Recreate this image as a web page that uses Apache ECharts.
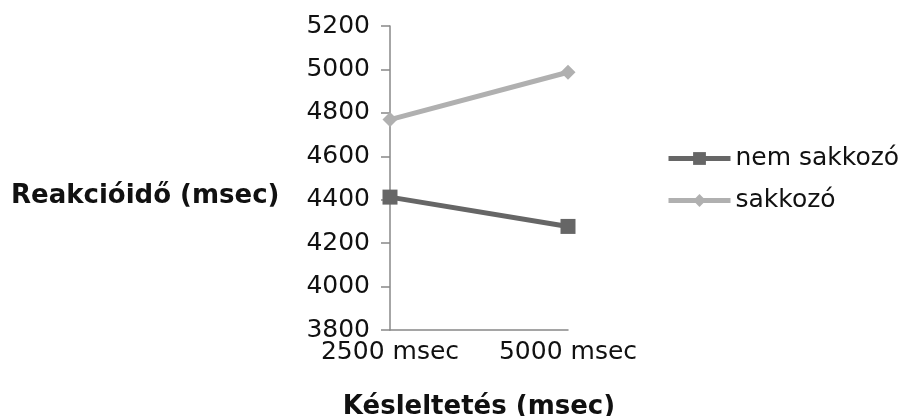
<!DOCTYPE html>
<html>
<head>
<meta charset="utf-8">
<script src="https://cdn.jsdelivr.net/npm/echarts@6/dist/echarts.min.js"></script>
<style>html,body{margin:0;padding:0;background:#fff}#c{width:908px;height:416px}</style>
</head>
<body>
<div id="c"></div>
<script>
const categories = ['2500 msec', '5000 msec'];
const nemSakkozo = [4412, 4277];
const sakkozo = [4769, 4987];
const seriesNames = ['nem sakkozó', 'sakkozó'];
const yTitle = 'Reakcióidő (msec)';
const xTitle = 'Késleltetés (msec)';

const chart = echarts.init(document.getElementById('c'));
const font = 'DejaVu Sans';
chart.setOption({
  animation: false,
  backgroundColor: '#fff',
  textStyle: { fontFamily: font },
  grid: { left: 390, right: 340, top: 26, bottom: 86, containLabel: false, outerBoundsMode: 'none' },
  title: {
    text: yTitle, left: 6, top: 178,
    textStyle: { fontFamily: font, fontWeight: 'bold', fontSize: 26, color: '#111' }
  },
  legend: {
    orient: 'vertical', left: 666, top: 146, itemGap: 17, padding: 0,
    itemWidth: 62, itemHeight: 16,
    lineStyle: { width: 5 },
    textStyle: { fontFamily: font, fontSize: 25, color: '#111' },
    data: seriesNames
  },
  xAxis: {
    type: 'category', data: categories, boundaryGap: false,
    name: xTitle, nameLocation: 'middle', nameGap: 64,
    nameTextStyle: { fontFamily: font, fontWeight: 'bold', fontSize: 26, color: '#111' },
    axisLine: { lineStyle: { color: '#888', width: 1.5 } },
    axisTick: { show: false },
    axisLabel: { fontFamily: font, fontSize: 25, color: '#111', margin: 10, interval: 0, hideOverlap: false }
  },
  yAxis: {
    type: 'value', min: 3800, max: 5200, interval: 200,
    axisLine: { show: true, lineStyle: { color: '#888', width: 1.5 } },
    axisTick: { show: true, length: 9, lineStyle: { color: '#888', width: 1.5 } },
    splitLine: { show: false },
    axisLabel: { fontFamily: font, fontSize: 25, color: '#111', margin: 20, formatter: v => String(v) }
  },
  series: [
    {
      name: seriesNames[0], type: 'line', data: nemSakkozo,
      symbol: 'rect', symbolSize: 15,
      lineStyle: { color: '#666', width: 5 },
      itemStyle: { color: '#666' }
    },
    {
      name: seriesNames[1], type: 'line', data: sakkozo,
      symbol: 'diamond', symbolSize: 15,
      lineStyle: { color: '#b0b0b0', width: 5 },
      itemStyle: { color: '#b0b0b0' }
    }
  ]
});
</script>
</body>
</html>
